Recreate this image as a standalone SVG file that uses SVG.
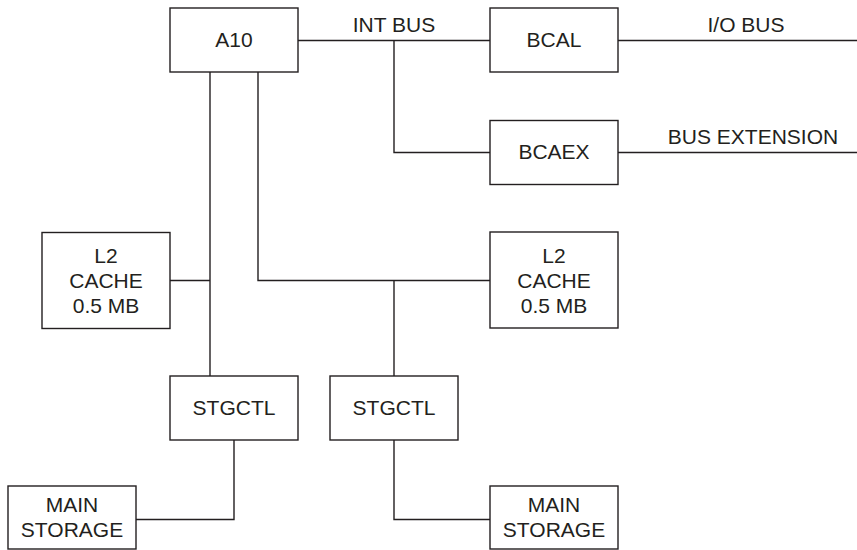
<svg xmlns="http://www.w3.org/2000/svg" width="857" height="550" viewBox="0 0 857 550">
<style>
.box{fill:#fff;stroke:#231f20;stroke-width:1.4}
.ln{fill:none;stroke:#231f20;stroke-width:1.4}
text{font-family:"Liberation Sans",Arial,sans-serif;font-size:21px;fill:#231f20;text-anchor:middle}
</style>
<rect width="857" height="550" fill="#fff"/>
<g id="connectors">
<path class="ln" d="M298 40.5H490"/>
<path class="ln" d="M618 40.5H857"/>
<path class="ln" d="M394 40.5V152.5H490"/>
<path class="ln" d="M618 152.5H857"/>
<path class="ln" d="M210 72V376"/>
<path class="ln" d="M170 280.5H210"/>
<path class="ln" d="M258 72V280.5H490"/>
<path class="ln" d="M394 280.5V376"/>
<path class="ln" d="M234 440V519.5H136"/>
<path class="ln" d="M394 440V519.5H490"/>
<text x="394" y="32">INT BUS</text>
<text x="746" y="32">I/O BUS</text>
<text x="753" y="144">BUS EXTENSION</text>
</g>
<g id="a10"><rect class="box" x="170" y="8" width="128" height="64"/><text x="234" y="47">A10</text></g>
<g id="bcal"><rect class="box" x="490" y="8" width="128" height="64"/><text x="554" y="47">BCAL</text></g>
<g id="bcaex"><rect class="box" x="490" y="120.5" width="128" height="64"/><text x="554" y="158.5">BCAEX</text></g>
<g id="l2-left"><rect class="box" x="42" y="232.5" width="128" height="96"/><text x="106" y="263">L2</text><text x="106" y="288">CACHE</text><text x="106" y="313">0.5 MB</text></g>
<g id="l2-right"><rect class="box" x="490" y="232" width="128" height="96"/><text x="554" y="263">L2</text><text x="554" y="288">CACHE</text><text x="554" y="313">0.5 MB</text></g>
<g id="stgctl-left"><rect class="box" x="170" y="376" width="128" height="64"/><text x="234" y="415">STGCTL</text></g>
<g id="stgctl-right"><rect class="box" x="330" y="376" width="128" height="64"/><text x="394" y="415">STGCTL</text></g>
<g id="main-left"><rect class="box" x="8" y="486" width="128" height="63"/><text x="72" y="512">MAIN</text><text x="72" y="537">STORAGE</text></g>
<g id="main-right"><rect class="box" x="490" y="486" width="128" height="63"/><text x="554" y="512">MAIN</text><text x="554" y="537">STORAGE</text></g>
</svg>
